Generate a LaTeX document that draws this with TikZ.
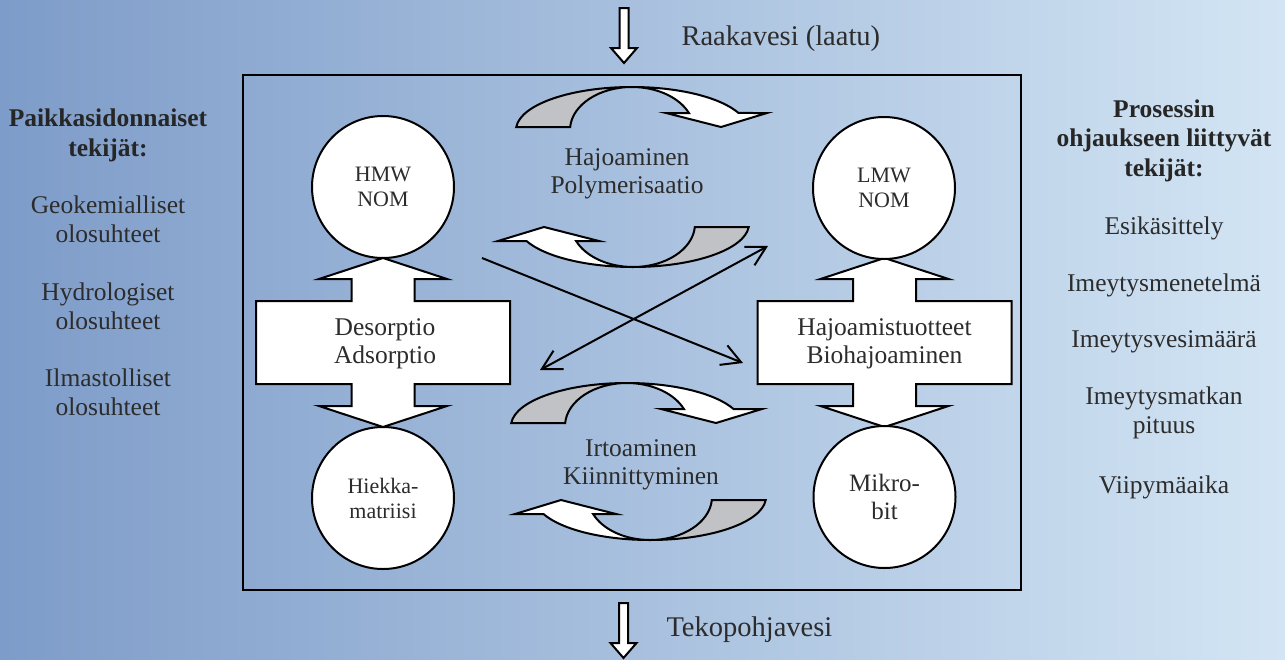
\documentclass[tikz,border=0pt]{standalone}
\usepackage{fontspec}
\setmainfont{Liberation Serif}
\usetikzlibrary{arrows.meta}
\definecolor{bgleft}{HTML}{7E9CC9}
\definecolor{bgright}{HTML}{D3E5F4}
\definecolor{inkgray}{HTML}{2C2C2C}
\definecolor{backgray}{HTML}{C1C2C6}
\tikzset{
every node/.style={text=inkgray},
outline/.style={line width=2pt,draw=black,line join=miter},
pool/.style={outline,circle,fill=white,minimum size=142pt,inner sep=0pt,align=center,
  font=\fontsize{22}{25}\selectfont},
bigpool/.style={pool,font=\fontsize{25}{28}\selectfont},
boxtext/.style={align=center,font=\fontsize{25.5}{28}\selectfont},
midtext/.style={align=center,font=\fontsize{25.5}{28}\selectfont},
sidetext/.style={align=center,font=\fontsize{25.5}{29}\selectfont},
sidehead/.style={align=center,font=\fontsize{25.5}{29.5}\selectfont\bfseries,text=black!85},
flowtext/.style={anchor=west,font=\fontsize{28.5}{32}\selectfont},
cross/.style={line width=2pt,draw=black},
barb/.tip={Straight Barb[length=19pt,width=21pt,line width=2pt]},
inflow/.pic={
  \filldraw[outline,fill=white] (-4.5,0) -- (-4.5,40) -- (-13,40) -- (0,55)
    -- (13,40) -- (4.5,40) -- (4.5,0) -- cycle;
},
twinarrow/.pic={
  \filldraw[outline,fill=white] (-127,-41.5) -- (-31.5,-41.5) -- (-31.5,-63.5)
    -- (-64,-63.5) -- (0,-84.5) -- (64,-63.5) -- (31.5,-63.5) -- (31.5,-41.5)
    -- (127,-41.5) -- (127,41.5) -- (31.5,41.5) -- (31.5,63.5) -- (64,63.5)
    -- (0,84.5) -- (-64,63.5) -- (-31.5,63.5) -- (-31.5,41.5) -- (-127,41.5) -- cycle;
},
swirl/.pic={
  \filldraw[outline,fill=backgray] (-115.7,40)
    arc[start angle=184,end angle=270,x radius=116,y radius=43]
    arc[start angle=270,end angle=184,x radius=62,y radius=43] -- cycle;
  \filldraw[outline,fill=white] (0,0)
    arc[start angle=270,end angle=336.7,x radius=116,y radius=43]
    -- (135,26) -- (89,40) -- (34,26) -- (56.9,26)
    arc[start angle=336.7,end angle=270,x radius=62,y radius=43] -- cycle;
},
}

\begin{document}
\begin{tikzpicture}[x=1pt,y=-1pt]
\clip (0,0) rectangle (1285,659);
\shade[left color=bgleft,right color=bgright] (0,0) rectangle (1285,659);

% raw water in, artificial groundwater out
\pic at (624,8) {inflow};
\node[flowtext] (raw) at (678,39) {Raakavesi (laatu)};
\pic at (623.5,603) {inflow};
\node[flowtext] (out) at (663,630) {Tekopohjavesi};

\draw[outline] (243,75) rectangle (1021,590);

% swirls
\pic at (632,87) {swirl};
\pic[rotate=180] at (633,267) {swirl};
\node[midtext] (poly) at (627,174) {Hajoaminen\\Polymerisaatio};
\pic at (627,383) {swirl};
\pic[rotate=180] at (650,540) {swirl};
\node[midtext] (attach) at (641,465) {Irtoaminen\\Kiinnittyminen};

% double arrows
\pic at (383,342.5) {twinarrow};
\node[boxtext] (sorp) at (385,344) {Desorptio\\Adsorptio};
\pic at (884.5,342.5) {twinarrow};
\node[boxtext] (bio) at (884.5,344) {Hajoamistuotteet\\Biohajoaminen};

% pools
\node[pool] (hmw) at (383,187) {HMW\\NOM};
\node[pool] (lmw) at (884,188) {LMW\\NOM};
\node[pool] (sand) at (383,498) {Hiekka-\\matriisi};
\node[bigpool] (mikro) at (884.5,497) {Mikro-\\bit};

% crossing arrows
\coordinate (hmw out) at (482,258);
\coordinate (bio in) at (743,363);
\coordinate (sorp in) at (540,370);
\coordinate (lmw in) at (768,246);
\draw[cross,-barb] (hmw out) -- (bio in);
\draw[cross,barb-barb] (sorp in) -- (lmw in);

% side factors
\node[sidehead] (lefthead) at (108,135.5) {Paikkasidonnaiset\\tekijät:};
\node[sidetext] (geo) at (108,219.5) {Geokemialliset\\olosuhteet};
\node[sidetext] (hydro) at (108,306) {Hydrologiset\\olosuhteet};
\node[sidetext] (ilma) at (108,392) {Ilmastolliset\\olosuhteet};

\node[sidehead] (righthead) at (1164,140.5) {Prosessin\\ohjaukseen liittyvät\\tekijät:};
\node[sidetext] (esi) at (1164,228) {Esikäsittely};
\node[sidetext] (menetelma) at (1164,285) {Imeytysmenetelmä};
\node[sidetext] (vesimaara) at (1164,342) {Imeytysvesimäärä};
\node[sidetext] (matka) at (1164,413) {Imeytysmatkan\\pituus};
\node[sidetext] (viipyma) at (1164,487) {Viipymäaika};
\end{tikzpicture}
\end{document}
